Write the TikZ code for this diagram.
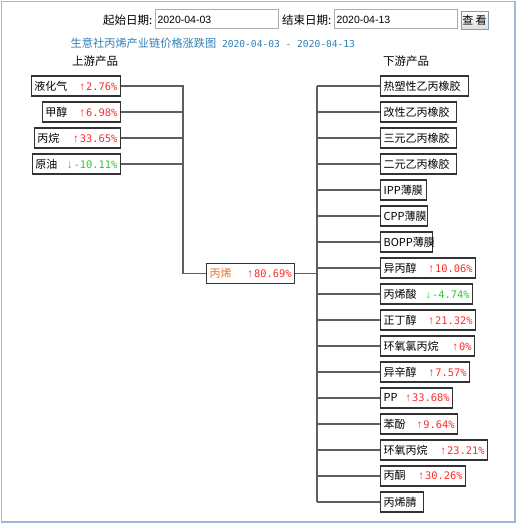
\documentclass[tikz,border=0pt]{standalone}
\usepackage{fontspec}
\setmainfont{Noto Sans CJK SC}
\newfontfamily\monof{DejaVu Sans Mono}
\newfontfamily\latf{Liberation Sans}
\definecolor{framec}{HTML}{9DB8DC}
\definecolor{titlec}{HTML}{2F80B5}
\definecolor{upred}{HTML}{FF2A2A}
\definecolor{dngreen}{HTML}{2BCC2B}
\definecolor{propc}{HTML}{F07020}
\definecolor{boxc}{HTML}{333333}
\definecolor{connc}{HTML}{5E5E5E}
\definecolor{fieldc}{HTML}{ABABAB}
\definecolor{btnc}{HTML}{7F9DB9}
\newcommand\cnf{\fontsize{11}{13}\selectfont}
\newcommand\upv[1]{{\color{upred}{\latf\fontsize{11.5}{12}\selectfont ↑}\kern1pt{\monof\fontsize{10.4}{12}\selectfont #1}}}
\newcommand\dnv[1]{{\color{dngreen}{\latf\fontsize{11.5}{12}\selectfont ↓}\kern1pt{\monof\fontsize{10.4}{12}\selectfont #1}}}
\begin{document}
\begin{tikzpicture}[x=1pt,y=-1pt,
  box/.style={draw=boxc, line width=1.2pt, inner xsep=3pt, inner ysep=0pt,
    minimum height=20pt, align=left, font=\cnf},
  ubox/.style={box, anchor=east, text width=#1},
  dbox/.style={box, anchor=west, text width=#1},
  conn/.style={draw=connc, line width=1.4pt},
  field/.style={draw=fieldc, line width=1pt, anchor=west, inner xsep=2pt, inner ysep=0pt,
    minimum height=19pt, align=left, font=\latf\fontsize{10.5}{12}\selectfont},
  lbl/.style={anchor=west, inner sep=0pt}]
\useasboundingbox (0,0) rectangle (519,527);
\draw[draw=framec, line width=1.5pt] (1.5,1.5) rectangle (515,522);

% top controls
\node[lbl, font=\fontsize{11.5}{13}\selectfont] (l1) at (103,20) {起始日期:};
\node[field, text width=119pt] (f1) at (155,19.5) {2020-04-03};
\node[lbl, font=\fontsize{11.5}{13}\selectfont] (l2) at (282,20) {结束日期:};
\node[field, text width=119pt] (f2) at (334,19.5) {2020-04-13};
\node[draw=btnc, line width=1pt, top color=white, bottom color=black!13,
  minimum width=27pt, minimum height=18pt, inner sep=0pt,
  font=\fontsize{11}{13}\selectfont] (btn) at (474.5,20.5) {查 看};

% title
\node[lbl, text=titlec] (title) at (70.5,43)
  {{\fontsize{11.2}{13}\selectfont 生意社丙烯产业链价格涨跌图}{\monof\fontsize{9.6}{12}\selectfont\ 2020-04-03 - 2020-04-13}};
\node[lbl, font=\fontsize{11.5}{13}\selectfont] (uph) at (72,61) {上游产品};
\node[lbl, font=\fontsize{11.5}{13}\selectfont] (dnh) at (383,61) {下游产品};

% upstream
\node[ubox=83pt] (u1) at (121,86)  {液化气\hfill\upv{2.76\%}};
\node[ubox=72pt] (u2) at (121,112) {甲醇\hfill\upv{6.98\%}};
\node[ubox=80pt] (u3) at (121,138) {丙烷\hfill\upv{33.65\%}};
\node[ubox=82pt] (u4) at (121,164) {原油\hfill\dnv{-10.11\%}};

% center
\node[box, anchor=west, text width=82pt] (c) at (206,273.5)
  {{\color{propc}丙烯}\hfill\upv{80.69\%}};

% downstream
\node[dbox=82pt]  (d1)  at (380,86)  {热塑性乙丙橡胶};
\node[dbox=70pt]  (d2)  at (380,112) {改性乙丙橡胶};
\node[dbox=70pt]  (d3)  at (380,138) {三元乙丙橡胶};
\node[dbox=70pt]  (d4)  at (380,164) {二元乙丙橡胶};
\node[dbox=40pt]  (d5)  at (380,190) {IPP薄膜};
\node[dbox=41pt]  (d6)  at (380,216) {CPP薄膜};
\node[dbox=46pt]  (d7)  at (380,242) {BOPP薄膜};
\node[dbox=89pt]  (d8)  at (380,268) {异丙醇\hfill\upv{10.06\%}};
\node[dbox=86pt]  (d9)  at (380,294) {丙烯酸\hfill\dnv{-4.74\%}};
\node[dbox=89pt]  (d10) at (380,320) {正丁醇\hfill\upv{21.32\%}};
\node[dbox=88pt]  (d11) at (380,346) {环氧氯丙烷\hfill\upv{0\%}};
\node[dbox=83pt]  (d12) at (380,372) {异辛醇\hfill\upv{7.57\%}};
\node[dbox=66pt]  (d13) at (380,398) {PP\hfill\upv{33.68\%}};
\node[dbox=71pt]  (d14) at (380,424) {苯酚\hfill\upv{9.64\%}};
\node[dbox=101pt] (d15) at (380,450) {环氧丙烷\hfill\upv{23.21\%}};
\node[dbox=79pt]  (d16) at (380,476) {丙酮\hfill\upv{30.26\%}};
\node[dbox=37pt]  (d17) at (380,502) {丙烯腈};

% connectors
\coordinate (lb) at (183,0);
\coordinate (rb) at (317,0);
\draw[conn] (u1.east) -- (lb|-u1.east) -- (lb|-c.west) -- (c.west);
\foreach \n in {u2,u3,u4} \draw[conn] (\n.east) -- (lb|-\n.east);
\draw[conn] (c.east) -- (rb|-c.east);
\draw[conn] (rb|-d1.west) -- (rb|-d17.west);
\foreach \i in {1,...,17} \draw[conn] (rb|-d\i.west) -- (d\i.west);
\end{tikzpicture}
\end{document}
